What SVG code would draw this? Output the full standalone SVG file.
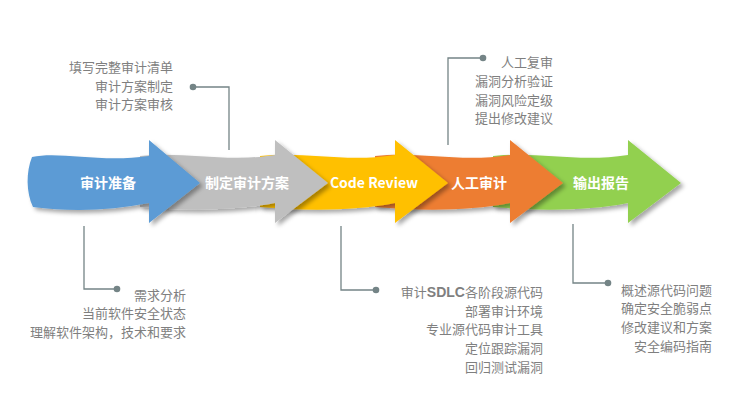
<svg xmlns="http://www.w3.org/2000/svg" xmlns:xlink="http://www.w3.org/1999/xlink" width="756" height="403" viewBox="0 0 756 403">
<style>
.lbl{font-family:"Noto Sans CJK SC","Liberation Sans",sans-serif;font-size:14px;font-weight:bold;fill:#ffffff;text-anchor:middle}
.note{font-family:"Noto Sans CJK SC","Liberation Sans",sans-serif;font-size:13px;fill:#7f7f7f;text-anchor:end}
.b{font-family:"Liberation Sans",Arial,sans-serif;font-weight:bold;font-size:14px}
.ln{fill:none;stroke:#748486;stroke-width:1.3}
.dot{fill:#748486}
</style>
<defs>
<filter id="sh" x="-20%" y="-20%" width="150%" height="150%">
<feDropShadow dx="3" dy="3" stdDeviation="2" flood-color="#000" flood-opacity="0.35"/>
</filter>
<path id="arr" d="M-135,156 C-90,151 -50,163 0,155 L0,140 L53,183 L0,223 L0,203 C-40,211 -90,211 -135,207 Z"/>
</defs>
<rect width="756" height="403" fill="#ffffff"/>

<g id="node-report">
<use xlink:href="#arr" x="628" fill="#92d050" filter="url(#sh)"/>
<text class="lbl" x="601" y="188">输出报告</text>
</g>
<g id="node-manual">
<use xlink:href="#arr" x="510" fill="#ed7d31" filter="url(#sh)"/>
<text class="lbl" x="479" y="188">人工审计</text>
</g>
<g id="node-review">
<use xlink:href="#arr" x="395" fill="#ffc000" filter="url(#sh)"/>
<text class="lbl" x="374" y="188">Code Review</text>
</g>
<g id="node-plan">
<use xlink:href="#arr" x="275" fill="#bfbfbf" filter="url(#sh)"/>
<text class="lbl" x="247" y="188">制定审计方案</text>
</g>
<g id="node-prep">
<path d="M32,157 C60,151 100,163 149,156 L149,140 L200,183 L149,223 L149,203 C110,211 70,212 33,207 C26,192 26,172 32,157 Z" fill="#5b9bd5" filter="url(#sh)"/>
<text class="lbl" x="108" y="188">审计准备</text>
</g>

<g id="connectors">
<polyline class="ln" points="193,87 229,87 229,150"/>
<circle class="dot" cx="193" cy="87" r="3.3"/>
<polyline class="ln" points="483,58 448,58 448,145"/>
<circle class="dot" cx="483" cy="58" r="3.3"/>
<polyline class="ln" points="84,226 84,289 117,289"/>
<circle class="dot" cx="117" cy="289" r="3.3"/>
<polyline class="ln" points="341,226 341,290 376,290"/>
<circle class="dot" cx="376" cy="290" r="3.3"/>
<polyline class="ln" points="573,224 573,283 608,283"/>
<circle class="dot" cx="608" cy="283" r="3.3"/>
</g>

<g id="note-plan">
<text class="note" x="173" y="72">填写完整审计清单</text>
<text class="note" x="173" y="91">审计方案制定</text>
<text class="note" x="173" y="109">审计方案审核</text>
</g>
<g id="note-manual">
<text class="note" x="553" y="67">人工复审</text>
<text class="note" x="553" y="86">漏洞分析验证</text>
<text class="note" x="553" y="105">漏洞风险定级</text>
<text class="note" x="553" y="123">提出修改建议</text>
</g>
<g id="note-prep">
<text class="note" x="186" y="300">需求分析</text>
<text class="note" x="186" y="318">当前软件安全状态</text>
<text class="note" x="186" y="337">理解软件架构，技术和要求</text>
</g>
<g id="note-review">
<text class="note" x="543" y="297">审计<tspan class="b">SDLC</tspan>各阶段源代码</text>
<text class="note" x="543" y="316">部署审计环境</text>
<text class="note" x="543" y="334">专业源代码审计工具</text>
<text class="note" x="543" y="353">定位跟踪漏洞</text>
<text class="note" x="543" y="372">回归测试漏洞</text>
</g>
<g id="note-report">
<text class="note" x="712" y="295">概述源代码问题</text>
<text class="note" x="712" y="313">确定安全脆弱点</text>
<text class="note" x="712" y="332">修改建议和方案</text>
<text class="note" x="712" y="351">安全编码指南</text>
</g>
</svg>
